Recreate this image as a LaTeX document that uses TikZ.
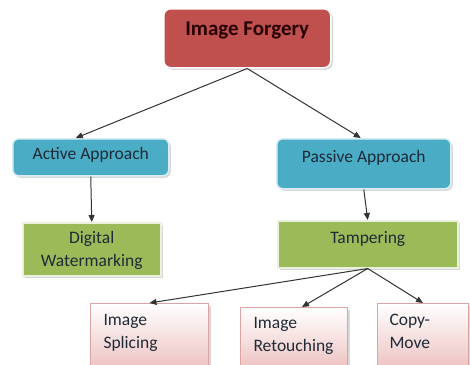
\documentclass[tikz,border=0pt]{standalone}
\usepackage{fontspec}
\setmainfont{Carlito}
\usetikzlibrary{shadows,arrows.meta}
\definecolor{cred}{HTML}{C0504D}
\definecolor{cblue}{HTML}{4BACC6}
\definecolor{cgreen}{HTML}{9BBB59}
\definecolor{cpink}{HTML}{EDC4C3}
\definecolor{cpinkline}{HTML}{DDA3A1}
\definecolor{ctext}{HTML}{1E2A36}
\definecolor{carrow}{HTML}{333333}
\tikzset{
  basebox/.style={anchor=north west, inner xsep=0pt, inner ysep=0pt,
    font=\fontsize{17.5}{23}\selectfont, text=ctext,
    drop shadow={opacity=0.3, shadow xshift=2pt, shadow yshift=-2pt}},
  redbox/.style={basebox, fill=cred, draw=white, line width=1.5pt, rounded corners=7pt,
    font=\fontsize{21}{24}\selectfont\bfseries, text=black!85!red},
  bluebox/.style={basebox, fill=cblue, draw=cblue!20!white, line width=1.5pt, rounded corners=6pt},
  greenbox/.style={basebox, fill=cgreen, draw=cgreen!20!white, line width=1.5pt, align=center},
  pinkbox/.style={basebox, top color=white, bottom color=cpink, draw=cpinkline, line width=1pt, align=left},
  arr/.style={draw=carrow, line width=1pt, -{Triangle[length=7pt,width=6pt]}}
}
\begin{document}
\begin{tikzpicture}[x=1pt,y=-1pt]
\useasboundingbox[fill=white] (0,0) rectangle (470,364);
\node[redbox, minimum width=167pt, text height=27pt, text depth=32pt] (forgery) at (163,8) {Image Forgery};
\node[bluebox, minimum width=156pt, text height=21pt, text depth=16pt] (active) at (12,138) {Active Approach};
\node[bluebox, minimum width=174pt, text height=24pt, text depth=26pt] (passive) at (276,138) {Passive Approach};
\node[greenbox, minimum width=138pt, text width=138pt, text height=21pt, text depth=32pt] (digital) at (22,222) {Digital\\Watermarking};
\node[greenbox, minimum width=180pt, text height=23pt, text depth=24pt] (tamper) at (277,220) {Tampering};
\node[pinkbox, minimum width=118pt, text width=92pt, inner xsep=13pt, text height=22pt, text depth=41pt] (splice) at (90,303) {Image\\Splicing};
\node[pinkbox, minimum width=107pt, text width=81pt, inner xsep=13pt, text height=21pt, text depth=38pt] (retouch) at (240,307) {Image\\Retouching};
\node[pinkbox, minimum width=91pt, text width=67pt, inner xsep=12pt, text height=22pt, text depth=41pt] (copy) at (377,303) {Copy-\\Move};
\draw[arr] (forgery.south) -- ([xshift=-15pt]active.north);
\draw[arr] (forgery.south) -- ([xshift=-3pt]passive.north);
\draw[arr] (active.south) -- (digital.north);
\draw[arr] (passive.south) -- (tamper.north);
\draw[arr] (tamper.south) -- (splice.north);
\draw[arr] (tamper.south) -- ([xshift=8pt]retouch.north);
\draw[arr] (tamper.south) -- (copy.north);
\end{tikzpicture}
\end{document}
